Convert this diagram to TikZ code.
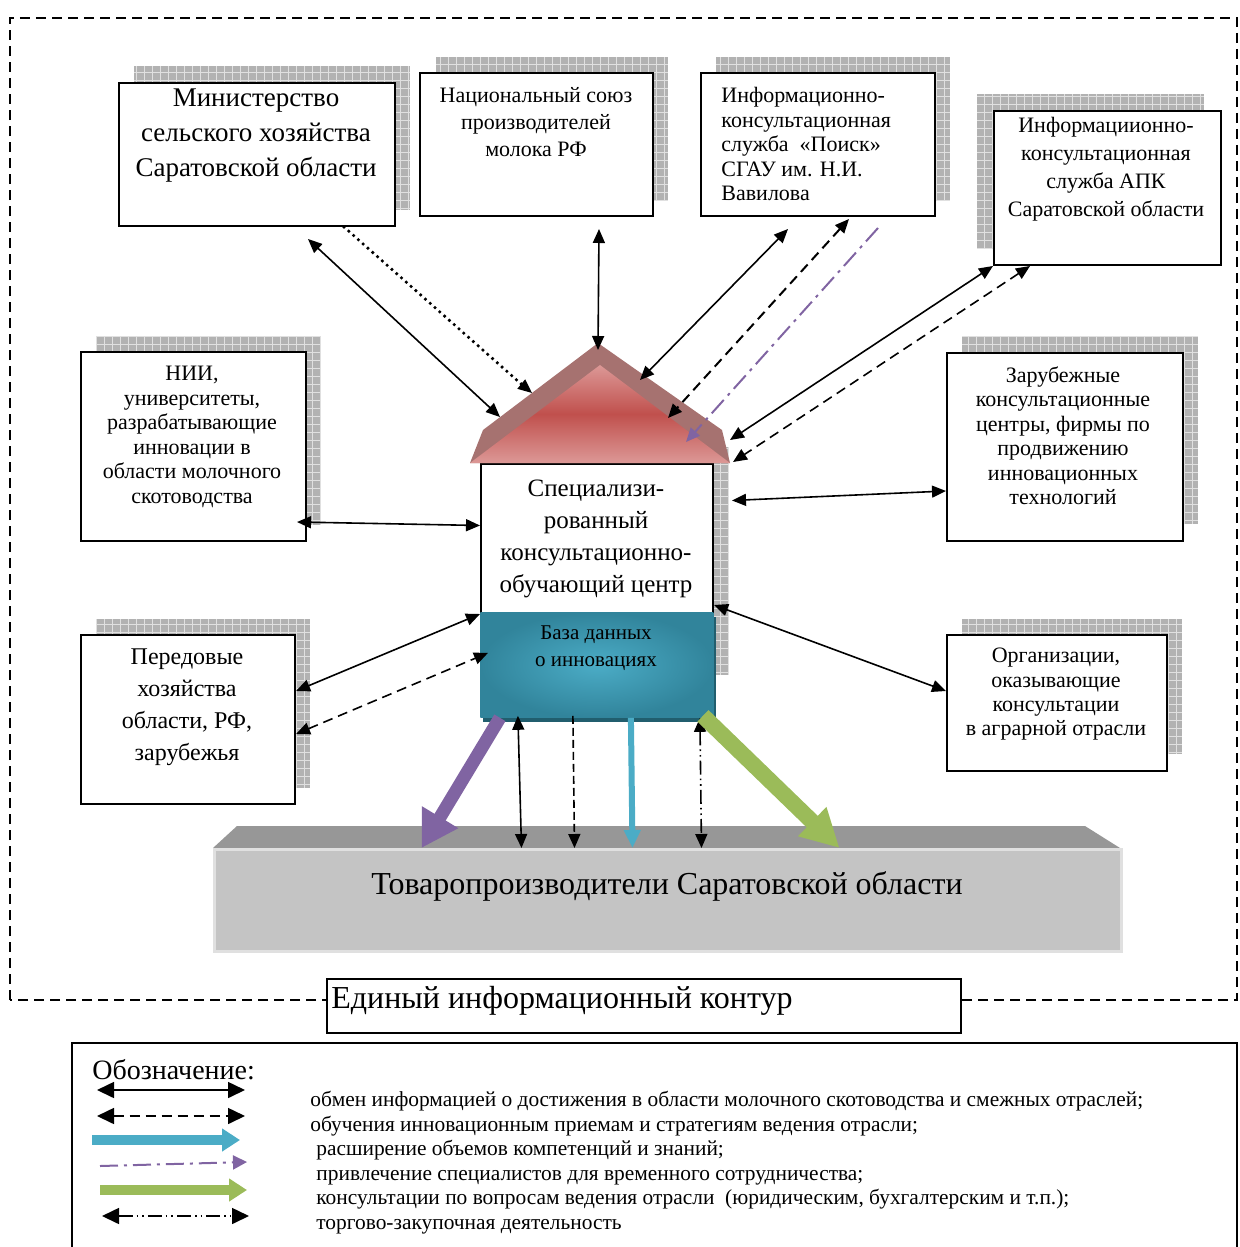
\documentclass[tikz,border=0pt]{standalone}
\usepackage{fontspec}
\setmainfont{Liberation Serif}
\usetikzlibrary{arrows.meta,calc}

\definecolor{roofband}{HTML}{A67270}
\definecolor{roofred}{HTML}{C0504D}
\definecolor{roofpink}{HTML}{DC9896}
\definecolor{dbteal}{HTML}{31849B}
\definecolor{dblight}{HTML}{4BACC6}
\definecolor{dbdark}{HTML}{215E6E}
\definecolor{slabtop}{HTML}{979797}
\definecolor{slabfront}{HTML}{C4C4C4}
\definecolor{arrpurple}{HTML}{8064A2}
\definecolor{arrgreen}{HTML}{9BBB59}
\definecolor{arrteal}{HTML}{4BACC6}

\tikzset{
  box/.style={draw,line width=1pt,fill=white,inner sep=0pt,anchor=north west},
  boxtxt/.style={inner sep=0pt,anchor=north,align=center},
  link/.style={line width=0.8pt},
  tip/.style={-{Triangle[length=7pt,width=6pt]}},
  tips/.style={{Triangle[length=7pt,width=6pt]}-{Triangle[length=7pt,width=6pt]}},
  dashlink/.style={link,dash pattern=on 5pt off 3pt},
  dotlink/.style={line width=1.8pt,line cap=round,dash pattern=on 0pt off 3.2pt},
  purplelink/.style={line width=1pt,arrpurple,dash pattern=on 9pt off 3pt on 1.5pt off 3pt},
  ddlink/.style={link,dash pattern=on 7pt off 2pt on 0.8pt off 2pt on 0.8pt off 2pt},
  fa/.style={font=\fontsize{11}{12.25}\selectfont},
}

\newcommand{\gridshadow}[4]{%
  \fill[black!30] (#1,#2) rectangle (#3,#4);
  \draw[black!12,line width=0.4pt,xstep=4pt,ystep=4pt] (#1,#4) grid (#3,#2);
}

\begin{document}
\begin{tikzpicture}[x=0.5pt,y=-0.5pt]
\useasboundingbox (0,0) rectangle (1239,1247);
\clip (0,0) rectangle (1239,1247);

% Контур
\draw[line width=0.9pt,dash pattern=on 5pt off 3pt]
(10,1000) -- (10,18) -- (1237,18) -- (1237,1000) -- cycle;

% Тени
\gridshadow{134}{66}{410}{210}
\gridshadow{436}{57}{668}{200}
\gridshadow{716}{57}{950}{200}
\gridshadow{977}{94}{1204}{248}
\gridshadow{96}{336}{321}{525}
\gridshadow{96}{619}{310}{788}
\gridshadow{962}{336}{1198}{524}
\gridshadow{962}{619}{1182}{754}
\gridshadow{713}{447}{729}{675}

% Министерство
\node[box,minimum width=138pt,minimum height=71.5pt] (min)
at (118,82) {};
\node[boxtxt,font=\fontsize{13.5}{17.5}\selectfont] (minT)
at (256,88)
{Министерство\\сельского хозяйства\\Саратовской области};

% Союз
\node[box,minimum width=116.5pt,minimum height=71.5pt] (nsm)
at (419,72) {};
\node[boxtxt,font=\fontsize{11}{13.5}\selectfont] (nsmT)
at (536,87)
{Национальный союз\\производителей\\молока РФ};

% Поиск
\node[box,minimum width=117pt,minimum height=71.5pt] (poisk)
at (700,72) {};
\node[boxtxt,fa,anchor=north west,align=left] (poiskT)
at (721,87)
{Информационно-\\консультационная\\служба\ \ «Поиск»\\СГАУ им. Н.И.\\Вавилова};

% АПК
\node[box,minimum width=113.5pt,minimum height=77pt] (apk)
at (993,110) {};
\node[boxtxt,font=\fontsize{11}{14}\selectfont] (apkT)
at (1106,117)
{Информациионно-\\консультационная\\служба АПК\\Саратовской области};

% НИИ
\node[box,minimum width=112.5pt,minimum height=94.5pt] (nii)
at (80,351) {};
\node[boxtxt,fa] (niiT)
at (192,366)
{НИИ,\\университеты,\\разрабатывающие\\инновации в\\области молочного\\скотоводства};

% Передовые
\node[box,minimum width=107pt,minimum height=84.5pt] (pered)
at (80,634) {};
\node[boxtxt,font=\fontsize{12}{16}\selectfont] (peredT)
at (187,648)
{Передовые\\хозяйства\\области, РФ,\\зарубежья};

% Зарубежные
\node[box,minimum width=118pt,minimum height=94pt] (zarub)
at (946,352) {};
\node[boxtxt,fa] (zarubT)
at (1063,366)
{Зарубежные\\консультационные\\центры, фирмы по\\продвижению\\инновационных\\технологий};

% Организации
\node[box,minimum width=110pt,minimum height=68pt] (org)
at (946,634) {};
\node[boxtxt,font=\fontsize{11}{12.15}\selectfont] (orgT)
at (1056,648)
{Организации,\\оказывающие\\консультации\\в аграрной отрасли};

% Центр
\node[box,minimum width=116pt,minimum height=74.5pt] (spec)
at (480,463) {};
\node[boxtxt,font=\fontsize{12.5}{16}\selectfont] (specT)
at (596,480)
{Специализи-\\рованный\\консультационно-\\обучающий центр};

% База данных
\fill[dbdark] (483,617) rectangle (716,722);
\node[anchor=north west,inner sep=0pt,minimum width=116.5pt,minimum height=52.5pt,
inner color=dblight,outer color=dbteal] (db)
at (480,612) {};
\node[boxtxt,font=\fontsize{10.5}{13.5}\selectfont] (dbT)
at (596,625)
{База данных\\о инновациях};

% Крыша
\coordinate (apex) at (598,343);
\fill[roofband]
(470,463) -- (483,430) -- (apex) -- (722,430) -- (730,463) -- cycle;
\shade[top color=roofpink,bottom color=roofpink,middle color=roofred]
(470,463) -- (600,365) -- (730,463) -- cycle;

% Товаропроизводители
\fill[slabtop]
(237,826) -- (1085,826) -- (1120,848) -- (213,848) -- cycle;
\node[anchor=north west,inner sep=0pt,fill=slabfront,draw=black!12,line width=1.5pt,
minimum width=453.5pt,minimum height=51pt] (prod)
at (213,848) {};
\node[boxtxt,font=\fontsize{16}{19}\selectfont] (prodT)
at (667,871)
{Товаропроизводители Саратовской области};

% Связи сверху
\draw[link,tips]
($(min.south)+(51,12)$)
--
($(apex)+(-98,74)$);

\draw[dotlink]
($(min.south)+(87,0)$)
--
($(apex)+(-70,47)$);
\draw[link,tip]
($(apex)+(-72,45)$)
--
($(apex)+(-66,50)$);

\draw[link,tips]
($(nsm.south)+(62.5,12)$)
--
($(apex)+(0,7)$);

\draw[link,tips]
($(poisk.south)+(-30,12)$)
--
($(apex)+(42,37)$);

\draw[dashlink,line width=1pt,tips]
($(poisk.south)+(31,2)$)
--
($(apex)+(70,75)$);

\draw[purplelink,-{Triangle[length=7pt,width=6pt]}]
($(poisk.south)+(60,11)$)
--
($(apex)+(88,99)$);

\draw[link,tips]
(apk.south west)
--
($(apex)+(132,97)$);

\draw[dashlink,tips]
($(apk.south west)+(37,0)$)
--
($(apex)+(135,119)$);

% Связи по бокам
\draw[link,tips]
($(nii.south east)+(-10,-20)$)
--
($(spec.west)+(0,-13)$);

\draw[link,tips]
($(zarub.west)+(0,44)$)
--
($(spec.east)+(18,-38)$);

\draw[link,tips]
($(pered.east)+(0,-28.5)$)
--
(spec.south west);

\draw[dashlink,tips]
($(pered.east)+(0,14.5)$)
--
($(db.west)+(8,-12)$);

\draw[link,tips]
($(org.west)+(0,-12)$)
--
($(spec.south east)+(0,-9)$);

% Связи снизу
\draw[line width=6.5pt,arrpurple,-{Triangle[length=18pt,width=20pt]}]
($(db.south)+(-97,0)$)
--
($(prod.north)+(-246.5,0)$);

\draw[link,tips]
($(db.south)+(-79,-2)$)
--
($(prod.north)+(-146.5,0)$);

\draw[dashlink,dash pattern=on 4pt off 2pt,tip]
($(db.south)+(-24,-2)$)
--
($(prod.north)+(-93.5,0)$);

\draw[line width=3pt,arrteal,-{Triangle[length=9pt,width=8pt]}]
($(db.south)+(34,0)$)
--
($(prod.north)+(-35.5,0)$);

\draw[ddlink,tips]
($(db.south)+(103,0)$)
--
($(prod.north)+(33.5,0)$);

\draw[line width=8pt,arrgreen,-{Triangle[length=19pt,width=19pt]}]
($(db.south)+(106,-2)$)
--
($(prod.north)+(171.5,0)$);

% Подпись контура
\node[box,minimum width=317pt,minimum height=27pt] (kontur)
at (326,978) {};
\node[anchor=north west,inner sep=0pt,font=\fontsize{16}{19}\selectfont] (konturT)
at (331,986)
{Единый информационный контур};

% Обозначения
\draw[line width=1.1pt]
(72,1252) -- (72,1043) -- (1237,1043) -- (1237,1252);

\node[anchor=north west,inner sep=0pt,font=\fontsize{14}{17}\selectfont] (legT)
at (92,1059)
{Обозначение:};

\draw[link,{Triangle[length=8.5pt,width=8pt]}-{Triangle[length=8.5pt,width=8pt]}]
(97,1090) -- (245,1090);
\draw[dashlink,{Triangle[length=8.5pt,width=8pt]}-{Triangle[length=8.5pt,width=8pt]}]
(97,1116) -- (245,1116);
\draw[line width=5pt,arrteal,-{Triangle[length=9pt,width=11pt]}]
(92,1140) -- (240,1140);
\draw[purplelink,-{Triangle[length=7pt,width=7pt]}]
(100,1166) -- (247,1162);
\draw[line width=5pt,arrgreen,-{Triangle[length=9pt,width=11pt]}]
(100,1190) -- (247,1190);
\draw[ddlink,{Triangle[length=8.5pt,width=8pt]}-{Triangle[length=8.5pt,width=8pt]}]
(102,1216) -- (249,1216);

\node[anchor=north west,inner sep=0pt,align=left,font=\fontsize{10.7}{12.25}\selectfont] (legList)
at (310,1091)
{обмен информацией о достижения в области молочного скотоводства и смежных отраслей;\\
обучения инновационным приемам и стратегиям ведения отрасли;\\
\hspace{3pt}расширение объемов компетенций и знаний;\\
\hspace{3pt}привлечение специалистов для временного сотрудничества;\\
\hspace{3pt}консультации по вопросам ведения отрасли\ \ (юридическим, бухгалтерским и т.п.);\\
\hspace{3pt}торгово-закупочная деятельность};

\end{tikzpicture}
\end{document}
